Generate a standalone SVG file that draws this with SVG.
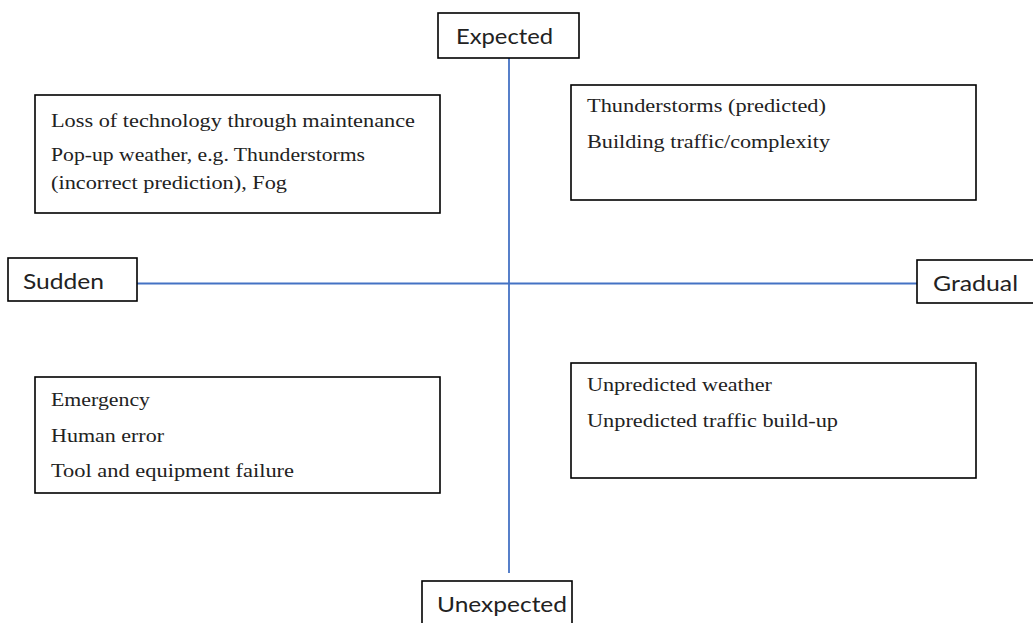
<svg xmlns="http://www.w3.org/2000/svg" width="1033" height="623" viewBox="0 0 1033 623">
<style>
.box{fill:#fff;stroke:#000;stroke-width:1.6}
.ax{stroke:#4472C4;stroke-width:1.8;fill:none}
.lbl{font-family:Lato,"Open Sans","Liberation Sans",sans-serif;font-size:21px;fill:#222}
.t{font-family:"Liberation Serif","Times New Roman",serif;font-size:19px;fill:#222}
</style>
<rect width="1033" height="623" fill="#fff"/>
<g id="connectors">
<line class="ax" x1="509" y1="58" x2="509" y2="573"/>
<line class="ax" x1="137" y1="283.5" x2="917" y2="283.5"/>
</g>
<g id="expected">
<rect class="box" x="438" y="13" width="141" height="45"/>
<text class="lbl" x="456" y="44" textLength="97" lengthAdjust="spacingAndGlyphs">Expected</text>
</g>
<g id="sudden">
<rect class="box" x="8" y="258" width="129" height="43"/>
<text class="lbl" x="23" y="289" textLength="81" lengthAdjust="spacingAndGlyphs">Sudden</text>
</g>
<g id="gradual">
<rect class="box" x="917" y="260" width="130" height="43"/>
<text class="lbl" x="933" y="291" textLength="85" lengthAdjust="spacingAndGlyphs">Gradual</text>
</g>
<g id="unexpected">
<rect class="box" x="422" y="581" width="150" height="60"/>
<text class="lbl" x="437" y="612" textLength="130" lengthAdjust="spacingAndGlyphs">Unexpected</text>
</g>
<g id="sudden-expected">
<rect class="box" x="35" y="95" width="405" height="118"/>
<text class="t" x="51" y="127" textLength="364" lengthAdjust="spacingAndGlyphs">Loss of technology through maintenance</text>
<text class="t" x="51" y="161" textLength="314" lengthAdjust="spacingAndGlyphs">Pop-up weather, e.g. Thunderstorms</text>
<text class="t" x="51" y="189" textLength="236" lengthAdjust="spacingAndGlyphs">(incorrect prediction), Fog</text>
</g>
<g id="gradual-expected">
<rect class="box" x="571" y="85" width="405" height="115"/>
<text class="t" x="587" y="112" textLength="239" lengthAdjust="spacingAndGlyphs">Thunderstorms (predicted)</text>
<text class="t" x="587" y="148" textLength="243" lengthAdjust="spacingAndGlyphs">Building traffic/complexity</text>
</g>
<g id="sudden-unexpected">
<rect class="box" x="35" y="377" width="405" height="116"/>
<text class="t" x="51" y="406" textLength="99" lengthAdjust="spacingAndGlyphs">Emergency</text>
<text class="t" x="51" y="442" textLength="113" lengthAdjust="spacingAndGlyphs">Human error</text>
<text class="t" x="51" y="477" textLength="243" lengthAdjust="spacingAndGlyphs">Tool and equipment failure</text>
</g>
<g id="gradual-unexpected">
<rect class="box" x="571" y="363" width="405" height="115"/>
<text class="t" x="587" y="391" textLength="185" lengthAdjust="spacingAndGlyphs">Unpredicted weather</text>
<text class="t" x="587" y="427" textLength="251" lengthAdjust="spacingAndGlyphs">Unpredicted traffic build-up</text>
</g>
</svg>
